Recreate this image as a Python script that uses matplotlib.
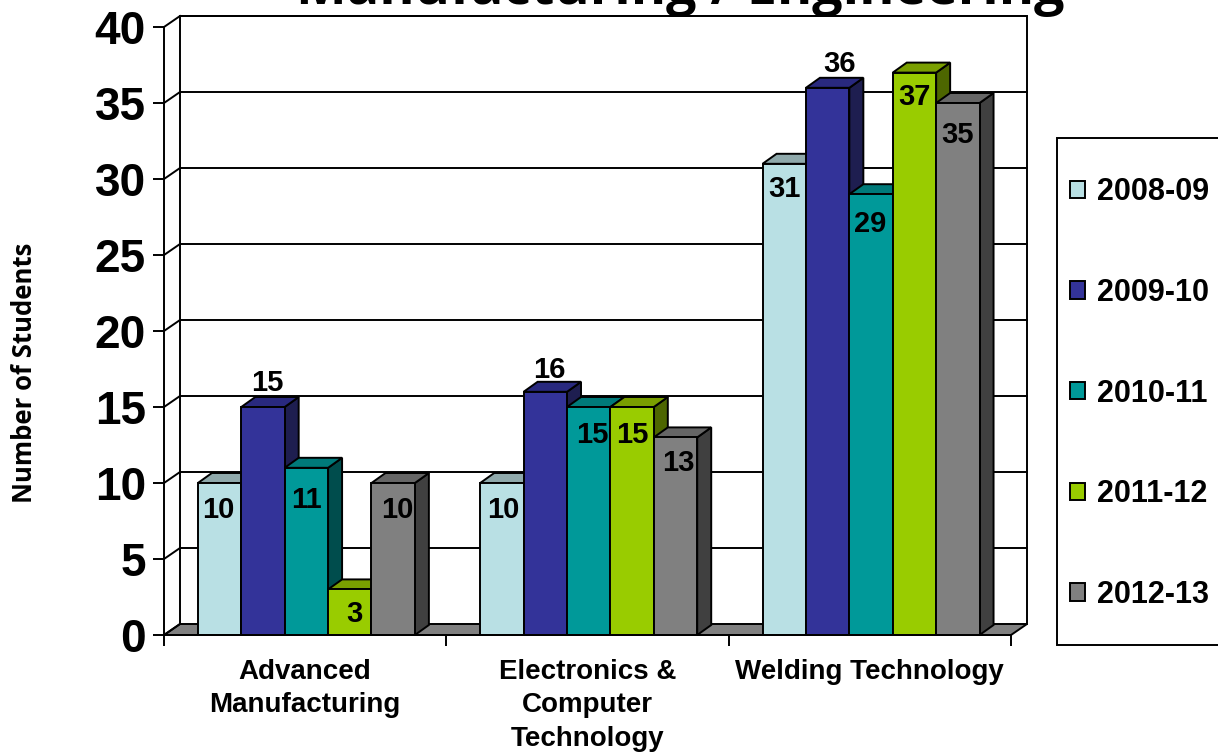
import matplotlib
matplotlib.use("Agg")
import matplotlib.pyplot as plt
from matplotlib.patches import Patch, Rectangle

categories = ["Advanced\nManufacturing", "Electronics &\nComputer\nTechnology", "Welding Technology"]
series_names = ["2008-09", "2009-10", "2010-11", "2011-12", "2012-13"]
v2008 = [10, 10, 31]
v2009 = [15, 16, 36]
v2010 = [11, 15, 29]
v2011 = [3, 15, 37]
v2012 = [10, 13, 35]
all_values = [v2008, v2009, v2010, v2011, v2012]
yticks = list(range(0, 45, 5))
title = "Manufacturing / Engineering"
ylabel = "Number of Students"

front = ["#B9E0E4", "#333399", "#009999", "#99CC00", "#808080"]
top = ["#8FA9AB", "#29297F", "#007A7A", "#7A9F00", "#666666"]
side = ["#5C7072", "#1E1E50", "#004D4D", "#4D6600", "#404040"]
# label offsets from the top centre of each bar, in pixels (series, then category)
label_off = [[(-1, -27), (1, -27), (0, -25)],
             [(4, 24), (4, 22), (12, 24)],
             [(0, -32), (4, -28), (-1, -30)],
             [(5, -25), (0, -28), (0, -24)],
             [(4, -27), (3, -26), (0, -32)]]

W, H = 1218, 753
L, R, T, B = 164, 1011, 27, 635
DX, DY = 16 / 282.33, 11 / 15.2      # wall depth in data units
BDX, BDY = 14 / 282.33, 10 / 15.2    # bar depth in data units
BW = 43.4 / 282.33
START = 0.12
LW = 1.4

plt.rcParams["font.family"] = ["Liberation Sans", "DejaVu Sans"]
fig = plt.figure(figsize=(W / 100, H / 100), dpi=100, facecolor="white")
ax = fig.add_axes([L / W, 1 - B / H, (R - L) / W, (B - T) / H])
ax.set_xlim(0, 3)
ax.set_ylim(0, 40)
for s in ax.spines.values():
    s.set_visible(False)
ax.patch.set_visible(False)

# walls and floor
ax.fill([0, 3, 3 + DX, DX], [0, 0, DY, DY], facecolor="#808080", edgecolor="black", lw=LW, clip_on=False, zorder=1)
ax.plot([DX, DX, 3 + DX, 3 + DX], [DY, 40 + DY, 40 + DY, DY], color="black", lw=LW, clip_on=False, zorder=1)
for y in yticks:
    ax.plot([0, DX], [y, y + DY], color="black", lw=LW, clip_on=False, zorder=1)
    if y:
        ax.plot([DX, 3 + DX], [y + DY, y + DY], color="black", lw=LW, clip_on=False, zorder=1)
ax.plot([0, 0], [0, 40], color="black", lw=LW, clip_on=False, zorder=1)
ax.plot([0, 3], [0, 0], color="black", lw=LW, clip_on=False, zorder=20)

# bars
z = 2
for c in range(3):
    for s, vals in enumerate(all_values):
        x0 = c + START + s * BW
        v = vals[c]
        x1 = x0 + BW
        ax.fill([x1, x1 + BDX, x1 + BDX, x1], [0, BDY, v + BDY, v], facecolor=side[s],
                edgecolor="black", lw=LW, clip_on=False, zorder=z)
        ax.fill([x0, x1, x1 + BDX, x0 + BDX], [v, v, v + BDY, v + BDY], facecolor=top[s],
                edgecolor="black", lw=LW, clip_on=False, zorder=z)
        ax.bar(x0, v, width=BW, align="edge", color=front[s], edgecolor="black", lw=LW,
               clip_on=False, zorder=z + 0.5)
        z += 1
for c in range(3):
    for s, vals in enumerate(all_values):
        x = c + START + (s + 0.5) * BW
        off = label_off[s][c]
        ax.annotate(str(vals[c]), (x, vals[c]), xytext=(off[0] * 0.72, off[1] * 0.72),
                    textcoords="offset points", ha="center", va="center",
                    fontsize=21, fontweight="bold", color="black", zorder=50, annotation_clip=False)

# ticks
ax.set_yticks(yticks)
ax.set_yticklabels([str(y) for y in yticks], fontsize=33, fontweight="bold")
ax.tick_params(axis="y", length=8, width=LW, pad=5)
ax.set_xticks([0, 1, 2, 3])
ax.set_xticklabels([])
ax.tick_params(axis="x", which="major", length=8, width=LW)
ax.set_xticks([0.5, 1.5, 2.5], minor=True)
ax.set_xticklabels(categories, minor=True, fontsize=20, fontweight="bold", linespacing=1.38)
ax.tick_params(axis="x", which="minor", length=0, pad=17)

fig.text(680 / W, 1 - 4 / H, title, ha="center", va="baseline", fontsize=38.7, fontweight="bold",
         family=["Open Sans", "DejaVu Sans"])
fig.text(24.5 / W, 1 - 373 / H, ylabel, rotation=90, ha="center", va="center", fontsize=18.5,
         fontweight="bold", family=["Open Sans", "DejaVu Sans"])

# legend box and entries
fig.add_artist(Rectangle((1057 / W, 1 - 645 / H), 200 / W, 507 / H, transform=fig.transFigure,
                         facecolor="white", edgecolor="black", lw=LW))
handles = [Patch(facecolor=f, edgecolor="black", lw=LW, label=n) for f, n in zip(front, series_names)]
leg = fig.legend(handles=handles, loc="center left", bbox_to_anchor=(1070 / W, 1 - 393.5 / H),
                 frameon=False, prop={"size": 22, "weight": "bold"}, handlelength=0.5, handleheight=0.5,
                 handletextpad=0.4, labelspacing=2.31, borderpad=0, borderaxespad=0)
fig.savefig("out.png", dpi=100)
